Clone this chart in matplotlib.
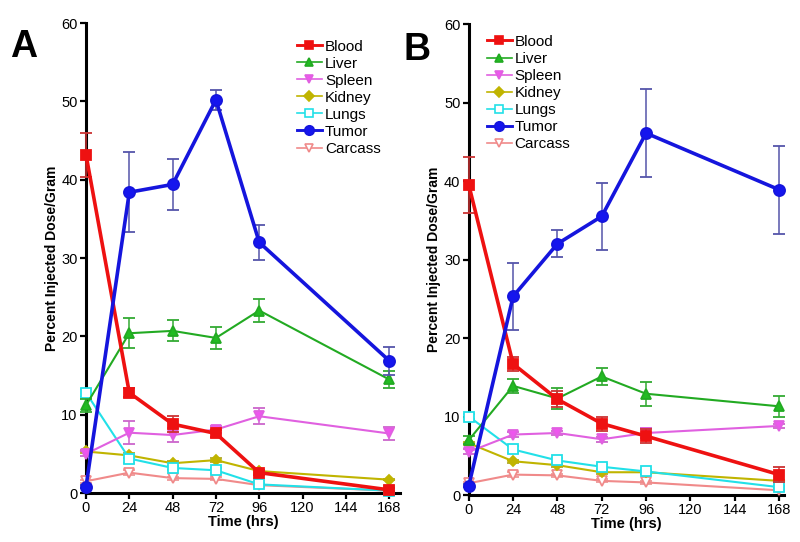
import numpy as np
import matplotlib.pyplot as plt
from matplotlib.lines import Line2D

plt.rcParams['font.family'] = ['Liberation Sans', 'DejaVu Sans']

# ----------------------------
# Data
# ----------------------------
time_hrs = [0, 24, 48, 72, 96, 168]
organs = ["Blood", "Liver", "Spleen", "Kidney", "Lungs", "Tumor", "Carcass"]

# Panel A
blood_a = [43.2, 12.8, 8.8, 7.6, 2.6, 0.4]
blood_a_err = [2.8, 0.6, 1.0, 0.4, 0.3, 0.2]
liver_a = [11.2, 20.4, 20.7, 19.8, 23.3, 14.5]
liver_a_err = [0.8, 1.9, 1.35, 1.4, 1.5, 1.1]
spleen_a = [5.0, 7.7, 7.4, 8.1, 9.8, 7.6]
spleen_a_err = [0.3, 1.5, 0.9, 0.4, 1.0, 0.8]
kidney_a = [5.3, 4.8, 3.8, 4.2, 2.8, 1.7]
kidney_a_err = [0.2, 0.3, 0.3, 0.3, 0.2, 0.1]
lungs_a = [12.8, 4.4, 3.2, 2.9, 1.1, 0.3]
lungs_a_err = [0.5, 0.6, 0.3, 0.3, 0.2, 0.1]
tumor_a = [0.8, 38.4, 39.4, 50.2, 32.0, 16.9]
tumor_a_err = [0.2, 5.1, 3.3, 1.3, 2.2, 1.8]
carcass_a = [1.5, 2.6, 1.9, 1.8, 1.0, 0.3]
carcass_a_err = [0.2, 0.3, 0.2, 0.2, 0.2, 0.1]

# Panel B
blood_b = [39.5, 16.7, 12.2, 9.1, 7.5, 2.6]
blood_b_err = [3.6, 0.9, 1.0, 0.9, 0.9, 1.0]
liver_b = [7.0, 13.9, 12.3, 15.1, 12.9, 11.3]
liver_b_err = [0.5, 0.9, 1.35, 1.05, 1.5, 1.3]
spleen_b = [5.5, 7.7, 7.9, 7.1, 7.9, 8.8]
spleen_b_err = [0.3, 0.3, 0.3, 0.3, 0.6, 0.3]
kidney_b = [6.6, 4.3, 3.8, 2.9, 2.9, 1.8]
kidney_b_err = [0.2, 0.2, 0.2, 0.2, 0.2, 0.1]
lungs_b = [10.0, 5.8, 4.4, 3.6, 3.0, 1.0]
lungs_b_err = [0.3, 0.5, 0.3, 0.3, 0.2, 0.1]
tumor_b = [1.2, 25.3, 32.0, 35.5, 46.1, 38.9]
tumor_b_err = [0.2, 4.3, 1.7, 4.3, 5.6, 5.6]
carcass_b = [1.5, 2.6, 2.5, 1.8, 1.6, 0.6]
carcass_b_err = [0.2, 0.3, 0.2, 0.2, 0.2, 0.1]

# ----------------------------
# Styles
# ----------------------------
styles = {
    "Blood":   dict(color="#ee1111", marker="s", ms=6.5, lw=2.6, mfc="#ee1111", ecolor="#cc3333"),
    "Liver":   dict(color="#22aa22", marker="^", ms=7.5, lw=1.5, mfc="#22bb22", ecolor="#33aa33"),
    "Spleen":  dict(color="#e060e0", marker="v", ms=7.5, lw=1.5, mfc="#ee55ee", ecolor="#cc66cc"),
    "Kidney":  dict(color="#c0b400", marker="D", ms=5.5, lw=1.5, mfc="#c0b400", ecolor="#b0a830"),
    "Lungs":   dict(color="#22e0e8", marker="s", ms=6.5, lw=1.5, mfc="white", ecolor="#44dddd"),
    "Tumor":   dict(color="#1515dd", marker="o", ms=8, lw=2.6, mfc="#1515ee", ecolor="#5555aa"),
    "Carcass": dict(color="#f08a8a", marker="v", ms=7.5, lw=1.5, mfc="white", ecolor="#ee9999"),
}

panel_a = {
    "Blood": (blood_a, blood_a_err), "Liver": (liver_a, liver_a_err),
    "Spleen": (spleen_a, spleen_a_err), "Kidney": (kidney_a, kidney_a_err),
    "Lungs": (lungs_a, lungs_a_err), "Tumor": (tumor_a, tumor_a_err),
    "Carcass": (carcass_a, carcass_a_err),
}
panel_b = {
    "Blood": (blood_b, blood_b_err), "Liver": (liver_b, liver_b_err),
    "Spleen": (spleen_b, spleen_b_err), "Kidney": (kidney_b, kidney_b_err),
    "Lungs": (lungs_b, lungs_b_err), "Tumor": (tumor_b, tumor_b_err),
    "Carcass": (carcass_b, carcass_b_err),
}

# draw order: tumor on top of the rest
draw_order = ["Carcass", "Kidney", "Lungs", "Spleen", "Liver", "Blood", "Tumor"]


def draw_panel(ax, data, xmax, legend_xy):
    for z, name in enumerate(draw_order):
        y, err = data[name]
        st = styles[name]
        ax.errorbar(time_hrs, y, yerr=err, color=st["color"], lw=st["lw"],
                    marker=st["marker"], ms=st["ms"], mfc=st["mfc"],
                    mec=st["color"], mew=1.3, ecolor=st["ecolor"],
                    elinewidth=1.1, capsize=4, capthick=1.1,
                    zorder=3 + z, clip_on=False)
    ax.set_xlim(0, xmax)
    ax.set_ylim(0, 60)
    ax.set_xticks([0, 24, 48, 72, 96, 120, 144, 168])
    ax.set_yticks([0, 10, 20, 30, 40, 50, 60])
    for s in ["top", "right"]:
        ax.spines[s].set_visible(False)
    for s in ["left", "bottom"]:
        ax.spines[s].set_linewidth(2.2)
    ax.tick_params(direction="out", length=4, width=1.6, labelsize=10.5, pad=2)
    ax.set_xlabel("Time (hrs)", fontsize=10.5, fontweight="bold", labelpad=0)
    ax.set_ylabel("Percent Injected Dose/Gram", fontsize=10, fontweight="bold", labelpad=2)

    # legend handles: line + marker only, no error bars
    handles = []
    for name in organs:
        st = styles[name]
        handles.append(Line2D([], [], color=st["color"], lw=st["lw"] * 0.8,
                              marker=st["marker"], ms=st["ms"] * 0.85,
                              mfc=st["mfc"], mec=st["color"], mew=1.2))
    ax.legend(handles, organs, loc="upper left", bbox_to_anchor=legend_xy,
              frameon=False, fontsize=11, labelspacing=0.2,
              handlelength=1.63, handletextpad=0.2,
              borderpad=0, borderaxespad=0)


fig = plt.figure(figsize=(8, 5.42), dpi=100)
ax_a = fig.add_axes([0.1075, 0.0904, 0.3925, 0.867])
ax_b = fig.add_axes([0.586, 0.0867, 0.394, 0.869])

draw_panel(ax_a, panel_a, 174, (0.672, 0.965))
draw_panel(ax_b, panel_b, 170.7, (0.057, 0.977))

fig.text(0.012, 0.895, "A", fontsize=27, fontweight="bold")
fig.text(0.504, 0.89, "B", fontsize=27, fontweight="bold")

fig.savefig("out.png", dpi=100)
